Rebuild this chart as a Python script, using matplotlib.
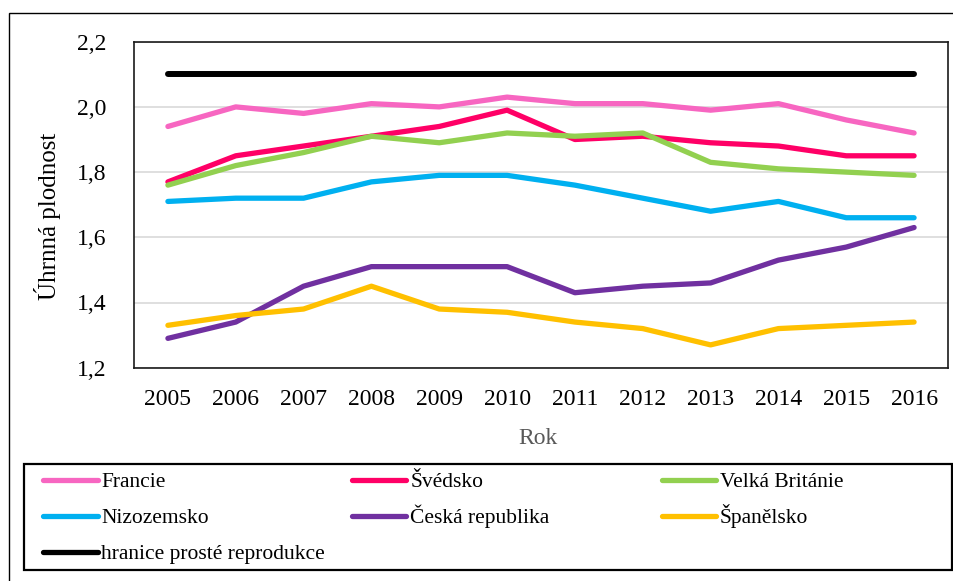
import matplotlib
matplotlib.use("Agg")
import matplotlib.pyplot as plt
from matplotlib.lines import Line2D
from matplotlib.patches import Rectangle

plt.rcParams['font.family'] = ['Liberation Serif', 'DejaVu Serif']

years = ["2005", "2006", "2007", "2008", "2009", "2010",
         "2011", "2012", "2013", "2014", "2015", "2016"]

francie = [1.94, 2.00, 1.98, 2.01, 2.00, 2.03, 2.01, 2.01, 1.99, 2.01, 1.96, 1.92]
svedsko = [1.77, 1.85, 1.88, 1.91, 1.94, 1.99, 1.90, 1.91, 1.89, 1.88, 1.85, 1.85]
velka_britanie = [1.76, 1.82, 1.86, 1.91, 1.89, 1.92, 1.91, 1.92, 1.83, 1.81, 1.80, 1.79]
nizozemsko = [1.71, 1.72, 1.72, 1.77, 1.79, 1.79, 1.76, 1.72, 1.68, 1.71, 1.66, 1.66]
ceska_republika = [1.29, 1.34, 1.45, 1.51, 1.51, 1.51, 1.43, 1.45, 1.46, 1.53, 1.57, 1.63]
spanelsko = [1.33, 1.36, 1.38, 1.45, 1.38, 1.37, 1.34, 1.32, 1.27, 1.32, 1.33, 1.34]
hranice = [2.1] * 12

series_names = ["Francie", "Švédsko", "Velká Británie", "Nizozemsko",
                "Česká republika", "Španělsko", "hranice prosté reprodukce"]
series_values = [francie, svedsko, velka_britanie, nizozemsko,
                 ceska_republika, spanelsko, hranice]
colors = ["#F766C1", "#FF0066", "#92D050", "#00B0F0", "#7030A0", "#FFC000", "#000000"]
widths = [3.8, 3.8, 3.8, 3.8, 3.8, 3.8, 4.3]

y_ticks = [1.2, 1.4, 1.6, 1.8, 2.0, 2.2]
y_tick_labels = ["1,2", "1,4", "1,6", "1,8", "2,0", "2,2"]

W, H = 954, 581
fig = plt.figure(figsize=(W / 100, H / 100), dpi=100)

# outer frame
fig.patches.append(Rectangle((9 / W, -0.1), 2.0, 1 - 12.7 / H + 0.1,
                             transform=fig.transFigure, fill=False,
                             edgecolor="black", linewidth=1.0))

ax_l, ax_r, ax_t, ax_b = 134, 948, 41.7, 367.7
ax = fig.add_axes([ax_l / W, 1 - ax_b / H, (ax_r - ax_l) / W, (ax_b - ax_t) / H])

x = list(range(len(years)))
for name, vals, c, lw in zip(series_names, series_values, colors, widths):
    ax.plot(x, vals, color=c, linewidth=lw, solid_capstyle="round",
            solid_joinstyle="round", zorder=3)

ax.set_xlim(-0.5, len(years) - 0.5)
ax.set_ylim(1.2, 2.2)
ax.set_yticks(y_ticks)
ax.set_yticklabels(y_tick_labels)
ax.set_xticks(x)
ax.set_xticklabels(years)
ax.tick_params(axis="both", length=0, labelsize=17, colors="black")
ax.tick_params(axis="y", pad=20)
ax.tick_params(axis="x", pad=15)
ax.grid(axis="y", color="#D9D9D9", linewidth=1.2, zorder=1)
for s in ax.spines.values():
    s.set_color("#1a1a1a")
    s.set_linewidth(1.2)

ax.set_ylabel("Úhrnná plodnost", fontsize=18)
ax.yaxis.set_label_coords((61 - ax_l) / (ax_r - ax_l), (ax_b - 216.5) / (ax_b - ax_t))
fig.text(538 / W, 1 - 438 / H, "Rok", fontsize=17, color="#595959",
         ha="center", va="center")

# legend box
lg_l, lg_r, lg_t, lg_b = 24.5, 952, 463.5, 570
fig.patches.append(Rectangle((lg_l / W, 1 - lg_b / H), (lg_r - lg_l) / W,
                             (lg_b - lg_t) / H, transform=fig.transFigure,
                             fill=False, edgecolor="black", linewidth=1.6))
col_x = [43.5, 352.5, 662]
row_y = [480, 516, 552]
for i, (name, c) in enumerate(zip(series_names, colors)):
    r, cc = divmod(i, 3)
    hx = col_x[cc]
    hy = 1 - row_y[r] / H
    fig.lines.append(Line2D([hx / W, (hx + 54) / W], [hy, hy],
                            transform=fig.transFigure, color=c,
                            linewidth=3.8, solid_capstyle="round"))
    fig.text((hx + 58) / W, 1 - (row_y[r] + 6.7) / H, name, fontsize=15.5,
             color="black", ha="left", va="baseline")

fig.savefig("out.png", dpi=100)
